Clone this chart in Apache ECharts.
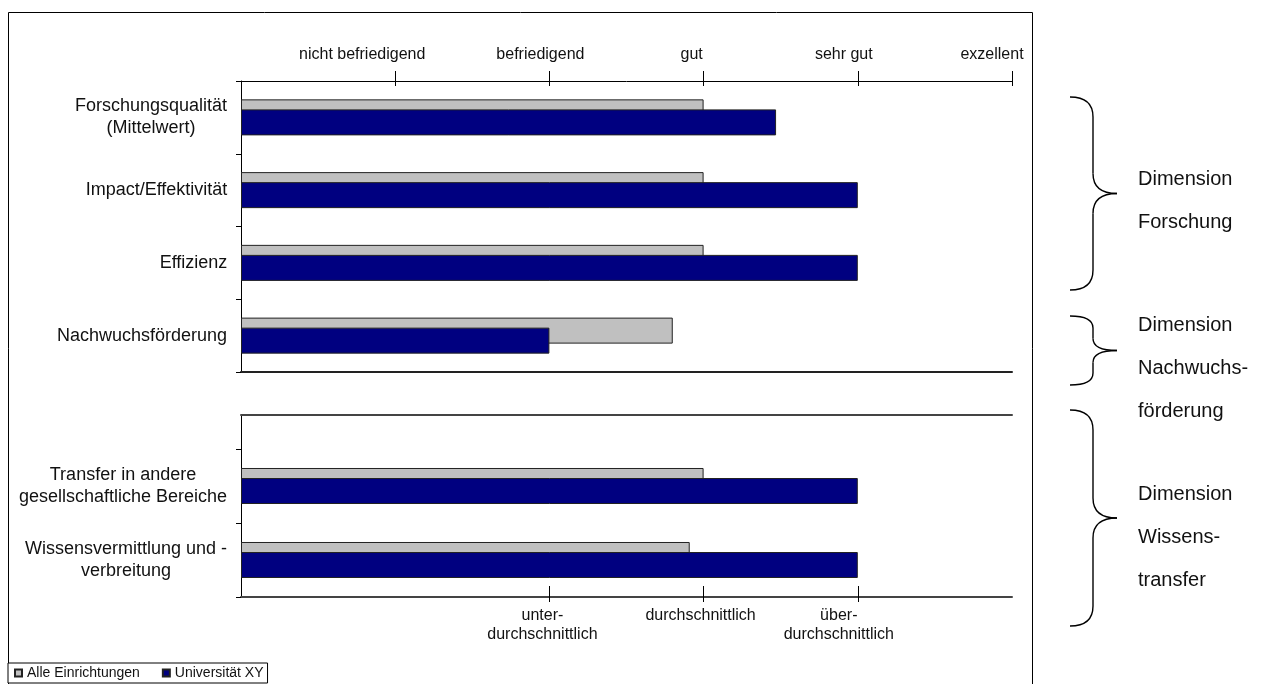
<!DOCTYPE html>
<html>
<head>
<meta charset="utf-8">
<script src="https://cdn.jsdelivr.net/npm/echarts@6/dist/echarts.min.js"></script>
<style>
  html, body { margin: 0; padding: 0; background: #fff; }
  #chart { width: 1266px; height: 684px; }
</style>
</head>
<body>
<div id="chart"></div>
<script>
const FONT = '"Liberation Sans", Arial, Helvetica, sans-serif';

// Categories of the two panels (top: research, bottom: knowledge transfer)
const researchCategories = [
  'Forschungsqualität\n(Mittelwert)',
  'Impact/Effektivität',
  'Effizienz',
  'Nachwuchsförderung'
];
const transferCategories = [
  'Transfer in andere\ngesellschaftliche Bereiche',
  'Wissensvermittlung und -\nverbreitung'
];

// Ratings on a 0–5 scale
const allInstitutionsResearch = [3.0, 3.0, 3.0, 2.8];
const universityResearch      = [3.47, 4.0, 4.0, 2.0];
const allInstitutionsTransfer = [3.0, 2.91];
const universityTransfer      = [4.0, 4.0];

// Tick labels
const ratingTicks  = [1, 2, 3, 4, 5];
const ratingLabels = ['', 'nicht befriedigend', 'befriedigend', 'gut', 'sehr gut', 'exzellent'];
const comparisonTicks  = [2, 3, 4];
const comparisonLabels = ['', '', 'unter-\ndurchschnittlich', 'durchschnittlich', 'über-\ndurchschnittlich', ''];

// Dimension groups shown with braces on the right
const dimensionNames = ['Dimension\nForschung', 'Dimension\nNachwuchs-\nförderung', 'Dimension\nWissens-\ntransfer'];

const seriesNames = ['Alle Einrichtungen', 'Universität XY'];
const GRAY = '#C0C0C0';
const NAVY = '#000080';

const CAT_FONT_SIZE = 18;
const TICK_FONT_SIZE = 16;

// Horizontal nudges (px to the left) of the scale labels relative to their ticks
const ratingLabelShift = [0, 33, 9, 12, 14, 20];
const comparisonLabelShift = [0, 0, 7, 3, 19, 0];

// Multi-line category labels: block right-aligned at the axis, lines centred inside the block
const measureCtx = document.createElement('canvas').getContext('2d');
measureCtx.font = CAT_FONT_SIZE + 'px ' + FONT;
function blockWidth(label) {
  return Math.ceil(Math.max.apply(null, label.split('\n').map(l => measureCtx.measureText(l).width))) + 1;
}
function categoryLabel(categories) {
  const rich = {};
  categories.forEach((c, i) => {
    rich['w' + i] = {
      width: blockWidth(c), align: 'center',
      fontSize: CAT_FONT_SIZE, fontFamily: FONT, color: '#111', lineHeight: 22
    };
  });
  return {
    margin: 13,
    align: 'right',
    rich: rich,
    formatter: (value, index) => value.split('\n').map(l => '{w' + index + '|' + l + '}').join('\n')
  };
}

// Scale labels on the value axes, each one nudged by its own shift
function scaleLabel(ticks, labels, shifts, extra) {
  const rich = {};
  ticks.forEach(v => {
    rich['s' + v] = {
      fontSize: TICK_FONT_SIZE, fontFamily: FONT, color: '#111', lineHeight: 19,
      align: 'center', padding: [0, 2 * shifts[v], 0, 0]
    };
  });
  return Object.assign({
    customValues: ticks,
    rich: rich,
    formatter: v => labels[v].split('\n').map(l => '{s' + v + '|' + l + '}').join('\n')
  }, extra);
}

const PLOT_LEFT = 241, PLOT_RIGHT = 254;

const valueAxisBase = { type: 'value', min: 0, max: 5, interval: 1, splitLine: { show: false } };

const barBase = {
  type: 'bar',
  barWidth: 26,
  barGap: '-61.5%',
  itemStyle: { borderColor: '#222', borderWidth: 1 }
};

// Right-facing curly brace built from quadratic curves and straight strokes
const BRACE_STYLE = { fill: 'none', stroke: '#000', lineWidth: 1.4 };
function braceElements(x0, x1, xTip, yTop, yBot, r) {
  const yMid = (yTop + yBot) / 2;
  const curve = (ax, ay, cx, cy, bx, by) => ({
    type: 'bezierCurve', silent: true,
    shape: { x1: ax, y1: ay, cpx1: cx, cpy1: cy, x2: bx, y2: by },
    style: BRACE_STYLE
  });
  const line = (ax, ay, bx, by) => ({
    type: 'line', silent: true,
    shape: { x1: ax, y1: ay, x2: bx, y2: by },
    style: BRACE_STYLE
  });
  return [
    curve(x0, yTop, x1, yTop, x1, yTop + r),
    line(x1, yTop + r, x1, yMid - r),
    curve(x1, yMid - r, x1, yMid, xTip, yMid),
    curve(xTip, yMid, x1, yMid, x1, yMid + r),
    line(x1, yMid + r, x1, yBot - r),
    curve(x1, yBot - r, x1, yBot, x0, yBot)
  ];
}
const braces = [
  { top: 97,  bottom: 290, r: 20, textY: 201 },
  { top: 316, bottom: 385, r: 12, textY: 368 },
  { top: 410, bottom: 626, r: 20, textY: 537 }
];

const graphics = [
  {
    type: 'rect', silent: true,
    shape: { x: 8.5, y: 12.5, width: 1024, height: 700 },
    style: { fill: 'none', stroke: '#000', lineWidth: 1 }
  }
];
braces.forEach((b, i) => {
  braceElements(1070, 1093, 1117, b.top, b.bottom, b.r).forEach(el => graphics.push(el));
  graphics.push({
    type: 'text', silent: true, x: 1138, y: b.textY,
    style: {
      text: dimensionNames[i], fill: '#111', font: '20px ' + FONT,
      lineHeight: 43, verticalAlign: 'middle', align: 'left'
    }
  });
});

const chart = echarts.init(document.getElementById('chart'), null, { renderer: 'canvas' });

chart.setOption({
  animation: false,
  backgroundColor: '#fff',
  textStyle: { fontFamily: FONT },
  legend: {
    data: seriesNames,
    left: 8, top: 663,
    orient: 'horizontal',
    backgroundColor: '#fff',
    borderColor: '#000', borderWidth: 1, borderRadius: 0,
    padding: [3, 4, 3, 6],
    itemWidth: 7, itemHeight: 7, itemGap: 22,
    icon: 'rect',
    textStyle: { fontSize: 14, fontFamily: FONT, color: '#111' }
  },
  grid: [
    { left: PLOT_LEFT, right: PLOT_RIGHT, top: 81,  height: 291 }, // research bars
    { left: PLOT_LEFT, right: PLOT_RIGHT, top: 449, height: 148 }, // transfer bars
    { left: PLOT_LEFT, right: PLOT_RIGHT, top: 81,  height: 291 }, // research frame overlay
    { left: PLOT_LEFT, right: PLOT_RIGHT, top: 415, height: 182 }  // transfer frame overlay
  ],
  xAxis: [
    Object.assign({}, valueAxisBase, {
      gridIndex: 0, position: 'top',
      axisLine: { show: true, onZero: false, lineStyle: { color: '#000', width: 1 } },
      axisTick: { show: true, length: 10, customValues: ratingTicks, lineStyle: { color: '#000' } },
      axisLabel: scaleLabel(ratingTicks, ratingLabels, ratingLabelShift, { margin: 17 })
    }),
    Object.assign({}, valueAxisBase, {
      gridIndex: 1, position: 'bottom',
      axisLine: { show: true, onZero: false, lineStyle: { color: '#444', width: 2 } },
      axisTick: { show: true, length: 5, customValues: comparisonTicks, lineStyle: { color: '#000' } },
      axisLabel: scaleLabel(comparisonTicks, comparisonLabels, comparisonLabelShift, { margin: 9 })
    }),
    Object.assign({}, valueAxisBase, {
      gridIndex: 2, position: 'top',
      axisLine: { show: false, onZero: false },
      axisTick: { show: true, inside: true, length: 5, customValues: ratingTicks, lineStyle: { color: '#000' } },
      axisLabel: { show: false }
    }),
    Object.assign({}, valueAxisBase, {
      gridIndex: 2, position: 'bottom',
      axisLine: { show: true, onZero: false, lineStyle: { color: '#222', width: 2 } },
      axisTick: { show: false },
      axisLabel: { show: false }
    }),
    Object.assign({}, valueAxisBase, {
      gridIndex: 3, position: 'top',
      axisLine: { show: true, onZero: false, lineStyle: { color: '#444', width: 2 } },
      axisTick: { show: false },
      axisLabel: { show: false }
    }),
    Object.assign({}, valueAxisBase, {
      gridIndex: 3, position: 'bottom',
      axisLine: { show: false, onZero: false },
      axisTick: { show: true, inside: true, length: 11, customValues: comparisonTicks, lineStyle: { color: '#000' } },
      axisLabel: { show: false }
    })
  ],
  yAxis: [
    {
      type: 'category', gridIndex: 0, inverse: true, data: researchCategories,
      axisLine: { show: true, onZero: false, lineStyle: { color: '#000', width: 1 } },
      axisTick: { show: true, length: 5, lineStyle: { color: '#000' } },
      axisLabel: categoryLabel(researchCategories)
    },
    {
      type: 'category', gridIndex: 1, inverse: true, data: transferCategories,
      axisLine: { show: true, onZero: false, lineStyle: { color: '#000', width: 1 } },
      axisTick: { show: true, length: 5, lineStyle: { color: '#000' } },
      axisLabel: categoryLabel(transferCategories)
    },
    { type: 'value', gridIndex: 2, min: 0, max: 1, show: false },
    {
      type: 'value', gridIndex: 3, min: 0, max: 1,
      axisLine: { show: true, onZero: false, lineStyle: { color: '#000', width: 1 } },
      axisTick: { show: false }, axisLabel: { show: false }, splitLine: { show: false }
    }
  ],
  series: [
    Object.assign({}, barBase, {
      name: seriesNames[0], xAxisIndex: 0, yAxisIndex: 0, z: 2,
      data: allInstitutionsResearch,
      itemStyle: Object.assign({}, barBase.itemStyle, { color: GRAY })
    }),
    Object.assign({}, barBase, {
      name: seriesNames[1], xAxisIndex: 0, yAxisIndex: 0, z: 3,
      data: universityResearch,
      itemStyle: Object.assign({}, barBase.itemStyle, { color: NAVY })
    }),
    Object.assign({}, barBase, {
      name: seriesNames[0], xAxisIndex: 1, yAxisIndex: 1, z: 2,
      data: allInstitutionsTransfer,
      itemStyle: Object.assign({}, barBase.itemStyle, { color: GRAY })
    }),
    Object.assign({}, barBase, {
      name: seriesNames[1], xAxisIndex: 1, yAxisIndex: 1, z: 3,
      data: universityTransfer,
      itemStyle: Object.assign({}, barBase.itemStyle, { color: NAVY })
    })
  ],
  graphic: graphics
});
</script>
</body>
</html>
